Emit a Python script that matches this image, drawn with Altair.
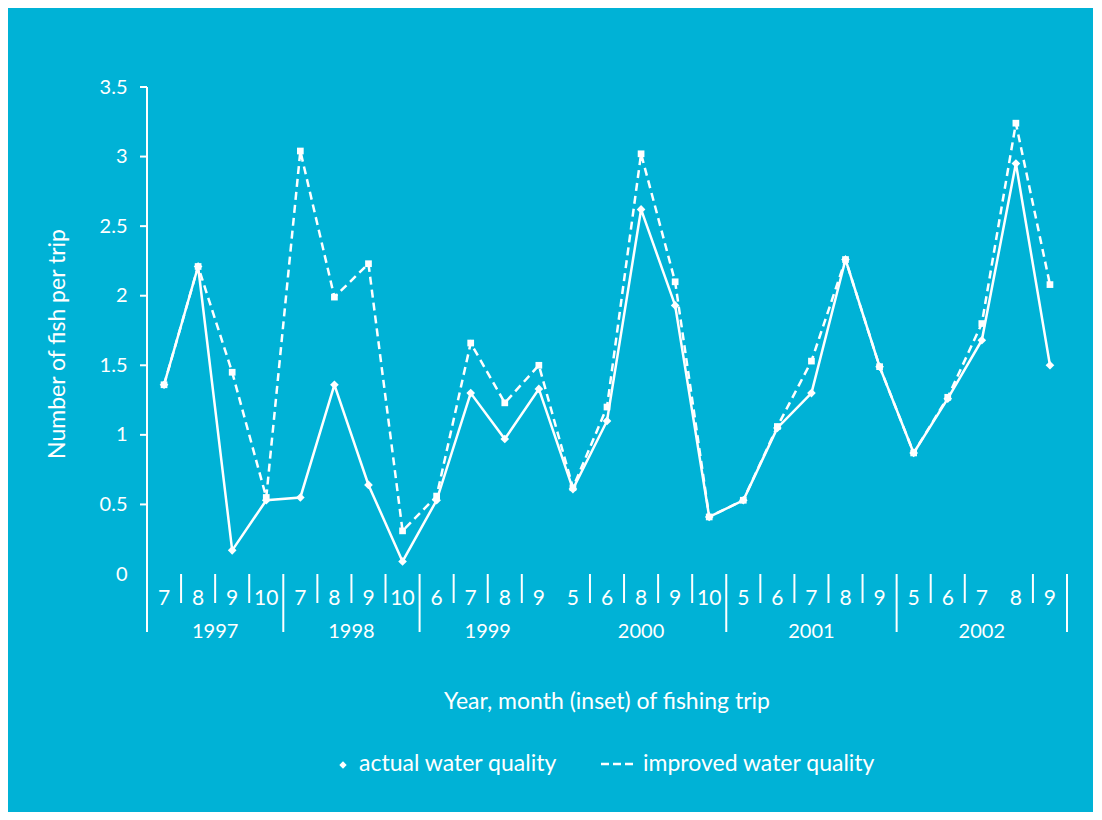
import altair as alt
import pandas as pd

# ---- data ----
months = ["7", "8", "9", "10", "7", "8", "9", "10", "6", "7", "8", "9",
          "5", "6", "8", "9", "10", "5", "6", "7", "8", "9", "5", "6", "7", "8", "9"]
years = ["1997"] * 4 + ["1998"] * 4 + ["1999"] * 4 + ["2000"] * 5 + ["2001"] * 5 + ["2002"] * 5
actual = [1.36, 2.21, 0.17, 0.53, 0.55, 1.36, 0.64, 0.09, 0.53, 1.30, 0.97, 1.33,
          0.61, 1.10, 2.62, 1.93, 0.41, 0.53, 1.05, 1.30, 2.26, 1.49, 0.87, 1.26,
          1.68, 2.95, 1.50]
improved = [1.36, 2.21, 1.45, 0.55, 3.04, 1.99, 2.23, 0.31, 0.56, 1.66, 1.23, 1.50,
            0.62, 1.20, 3.02, 2.10, 0.41, 0.53, 1.06, 1.53, 2.26, 1.49, 0.87, 1.27,
            1.80, 3.24, 2.08]
y_ticks = [0, 0.5, 1, 1.5, 2, 2.5, 3, 3.5]
month_separators = [0.5, 1.5, 2.5, 4.5, 5.5, 6.5, 8.5, 9.5, 10.5, 12.5, 13.5, 14.5, 15.5,
                    17.5, 18.5, 19.5, 20.5, 22.5, 23.5, 25.5]
year_separators = [3.5, 7.5, 16.5, 21.5, 26.5]
legend_labels = ["actual water quality", "improved water quality"]
x_title = "Year, month (inset) of fishing trip"
y_title = "Number of fish per trip"

BG = "#00b2d6"
FG = "white"
FONT = "Lato"

idx = list(range(len(months)))
df = pd.DataFrame({"idx": idx, "month": months, "year": years,
                   "actual": actual, "improved": improved})
year_df = df.groupby("year", as_index=False)["idx"].mean()
msep_df = pd.DataFrame({"pos": month_separators})
ysep_df = pd.DataFrame({"pos": year_separators})
ytick_df = pd.DataFrame({"v": [t for t in y_ticks if t > 0]})

xscale = alt.Scale(domain=[-0.5, 26.5], nice=False, zero=False)
yscale = alt.Scale(domain=[0, 3.5], nice=False)

W, H = 920, 487

base = alt.Chart(df)

yaxis = alt.Axis(values=y_ticks, domain=False, ticks=False, grid=False,
                 labelExpr="toString(datum.value)", labelColor=FG,
                 labelFontSize=20, labelFont=FONT, labelPadding=20, title=None)

line_actual = base.mark_line(color=FG, strokeWidth=2.5).encode(
    x=alt.X("idx:Q", scale=xscale, axis=None),
    y=alt.Y("actual:Q", scale=yscale, axis=yaxis),
)
pts_actual = base.mark_point(shape="diamond", filled=True, color=FG, size=75, opacity=1).encode(
    x=alt.X("idx:Q", scale=xscale), y=alt.Y("actual:Q", scale=yscale))
line_impr = base.mark_line(color=FG, strokeWidth=2.5, strokeDash=[8, 5]).encode(
    x=alt.X("idx:Q", scale=xscale), y=alt.Y("improved:Q", scale=yscale))
pts_impr = base.mark_point(shape="square", filled=True, color=FG, size=45, opacity=1).encode(
    x=alt.X("idx:Q", scale=xscale), y=alt.Y("improved:Q", scale=yscale))

# y-axis line and ticks
yline = alt.Chart(pd.DataFrame({"pos": [-0.5]})).mark_rule(color=FG, strokeWidth=2).encode(
    x=alt.X("pos:Q", scale=xscale), y=alt.value(0), y2=alt.value(H + 58))
yticks = alt.Chart(ytick_df).mark_rule(color=FG, strokeWidth=2).encode(
    y=alt.Y("v:Q", scale=yscale), x=alt.value(-7), x2=alt.value(0))

# x "axis": month labels, separators, years
month_text = base.mark_text(color=FG, font=FONT, fontSize=21, baseline="middle").encode(
    x=alt.X("idx:Q", scale=xscale), y=alt.value(H + 25), text="month:N")
year_text = alt.Chart(year_df).mark_text(color=FG, font=FONT, fontSize=20, baseline="middle").encode(
    x=alt.X("idx:Q", scale=xscale), y=alt.value(H + 58), text="year:N")
msep = alt.Chart(msep_df).mark_rule(color=FG, strokeWidth=2).encode(
    x=alt.X("pos:Q", scale=xscale), y=alt.value(H), y2=alt.value(H + 29))
ysep = alt.Chart(ysep_df).mark_rule(color=FG, strokeWidth=2).encode(
    x=alt.X("pos:Q", scale=xscale), y=alt.value(H), y2=alt.value(H + 58))

# titles
xt = alt.Chart(pd.DataFrame({"t": [x_title]})).mark_text(
    color=FG, font=FONT, fontSize=23, baseline="middle", align="center").encode(
    x=alt.value(W / 2), y=alt.value(615), text="t:N")
yt = alt.Chart(pd.DataFrame({"t": [y_title]})).mark_text(
    color=FG, font=FONT, fontSize=23, baseline="middle", align="center", angle=270).encode(
    x=alt.value(-89), y=alt.value(257), text="t:N")

# legend
leg_pt = alt.Chart(pd.DataFrame({"t": [legend_labels[0]]})).mark_point(
    shape="diamond", filled=True, color=FG, size=55, opacity=1).encode(
    x=alt.value(196), y=alt.value(678))
leg_t1 = alt.Chart(pd.DataFrame({"t": [legend_labels[0]]})).mark_text(
    color=FG, font=FONT, fontSize=23, baseline="middle", align="left").encode(
    x=alt.value(212), y=alt.value(677), text="t:N")
leg_dash = alt.Chart(pd.DataFrame({"t": [legend_labels[1]]})).mark_rule(
    color=FG, strokeWidth=2.5, strokeDash=[8, 4]).encode(
    x=alt.value(454), x2=alt.value(486), y=alt.value(677))
leg_t2 = alt.Chart(pd.DataFrame({"t": [legend_labels[1]]})).mark_text(
    color=FG, font=FONT, fontSize=23, baseline="middle", align="left").encode(
    x=alt.value(496), y=alt.value(677), text="t:N")

chart = alt.layer(
    line_actual, line_impr, pts_actual, pts_impr,
    yline, yticks, month_text, year_text, msep, ysep,
    xt, yt, leg_pt, leg_t1, leg_dash, leg_t2,
).properties(
    width=W, height=H, background=BG,
    padding={"left": 139, "top": 79, "right": 26, "bottom": 238},
    autosize=alt.AutoSizeParams(type="none"),
).configure_view(stroke=None)

chart.save("out.html", embed_options={"renderer": "svg", "actions": False})
